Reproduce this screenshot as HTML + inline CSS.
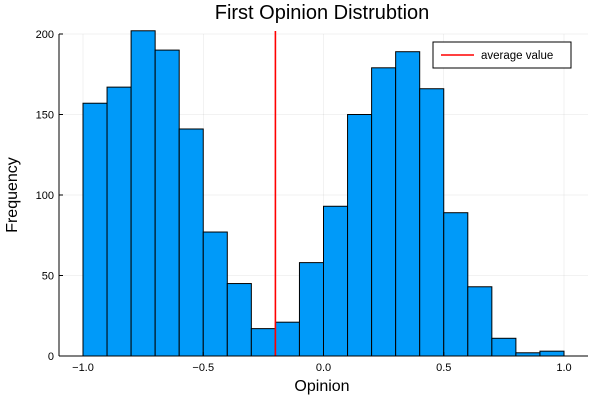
<!DOCTYPE html>
<html><head><meta charset="utf-8"><style>
body{margin:0;background:#fff;}
svg text{font-family:"Liberation Sans",sans-serif;}
</style></head><body>
<svg width="600" height="400">
<g id="grid"></g>
<g id="bars"></g>
<g id="axes"></g>
<text x="322" y="19" font-size="20" text-anchor="middle">First Opinion Distrubtion</text>
<text x="322" y="391" font-size="16" text-anchor="middle">Opinion</text>
<text x="17" y="195" font-size="16" text-anchor="middle" transform="rotate(-90 17 195)">Frequency</text>
<g>
<rect x="433" y="42" width="138" height="26" fill="#fff" stroke="#000" stroke-width="1"/>
<line x1="441" y1="55" x2="474" y2="55" stroke="#ff0000" stroke-width="1.5"/>
<text x="481" y="59" font-size="11.5">average value</text>
</g>
</svg>
<script>
const binStarts=[-1.0,-0.9,-0.8,-0.7,-0.6,-0.5,-0.4,-0.3,-0.2,-0.1,0.0,0.1,0.2,0.3,0.4,0.5,0.6,0.7,0.8,0.9];
const counts=[157,167,202,190,141,77,45,17,21,58,93,150,179,189,166,89,43,11,2,3];
const binWidth=0.1;
const averageValue=-0.2;
const xTicks=[-1.0,-0.5,0.0,0.5,1.0];
const xTickLabels=["\u22121.0","\u22120.5","0.0","0.5","1.0"];
const yTicks=[0,50,100,150,200];
const yTickLabels=["0","50","100","150","200"];
const L=59,R=588,T=34,B=356;
const sx=v=>83+(v+1)*240.5;
const sy=v=>B-v*(B-T)/200;
const NS="http://www.w3.org/2000/svg";
function mk(tag,attrs,parent){const e=document.createElementNS(NS,tag);for(const k in attrs)e.setAttribute(k,attrs[k]);parent.appendChild(e);return e;}
const grid=document.getElementById('grid'),bars=document.getElementById('bars'),axes=document.getElementById('axes');
xTicks.forEach(t=>{const l=mk('line',{x1:sx(t),x2:sx(t),y1:T,y2:B,stroke:'#000','stroke-opacity':0.1,'stroke-width':0.5},grid);

});
yTicks.forEach(t=>{const l=mk('line',{x1:L,x2:R,y1:sy(t),y2:sy(t),stroke:'#000','stroke-opacity':0.1,'stroke-width':0.5},grid);

});
binStarts.forEach((s,i)=>{const y=sy(counts[i]);const r=mk('rect',{x:sx(s),y:y,width:sx(s+binWidth)-sx(s),height:B-y,fill:'#009af9',stroke:'#000','stroke-width':1},bars);

});
const av=mk('line',{x1:sx(averageValue),x2:sx(averageValue),y1:T-3,y2:B,stroke:'#ff0000','stroke-width':1.6},bars);


mk('line',{x1:L,x2:L,y1:T,y2:B,stroke:'#000','stroke-width':1},axes);
mk('line',{x1:L,x2:R,y1:B,y2:B,stroke:'#000','stroke-width':1},axes);
xTicks.forEach((t,i)=>{mk('line',{x1:sx(t),x2:sx(t),y1:B,y2:B-4,stroke:'#000'},axes);
const tx=mk('text',{x:sx(t),y:B+15,'font-size':11,'text-anchor':'middle'},axes);tx.textContent=xTickLabels[i];

});
yTicks.forEach((t,i)=>{mk('line',{x1:L,x2:L+4,y1:sy(t),y2:sy(t),stroke:'#000'},axes);
const tx=mk('text',{x:L-5,y:sy(t)+4,'font-size':11,'text-anchor':'end'},axes);tx.textContent=yTickLabels[i];

});
</script>
</body></html>
